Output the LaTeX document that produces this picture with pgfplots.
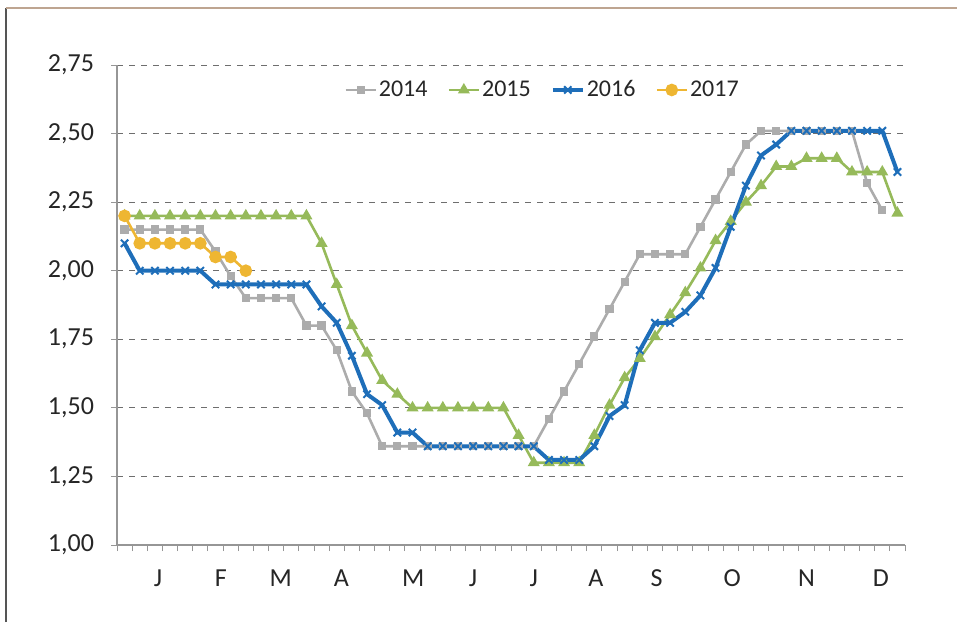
\documentclass[border=0pt]{standalone}
\usepackage{pgfplots}
\pgfplotsset{compat=1.18}
\usepackage{pgfplotstable}
\usepackage{fontspec}
\setmainfont{Carlito}
\definecolor{cgray}{RGB}{172,172,172}
\definecolor{cgreen}{RGB}{150,186,90}
\definecolor{cblue}{RGB}{30,110,185}
\definecolor{cgold}{RGB}{238,182,50}
\definecolor{gridc}{RGB}{110,110,110}
\definecolor{axc}{RGB}{150,150,150}

\pgfplotstableread{
w v
0 2.15
1 2.15
2 2.15
3 2.15
4 2.15
5 2.15
6 2.07
7 1.98
8 1.90
9 1.90
10 1.90
11 1.90
12 1.80
13 1.80
14 1.71
15 1.56
16 1.48
17 1.36
18 1.36
19 1.36
20 1.36
21 1.36
22 1.36
23 1.36
24 1.36
25 1.36
26 1.36
27 1.36
28 1.46
29 1.56
30 1.66
31 1.76
32 1.86
33 1.96
34 2.06
35 2.06
36 2.06
37 2.06
38 2.16
39 2.26
40 2.36
41 2.46
42 2.51
43 2.51
44 2.51
45 2.51
46 2.51
47 2.51
48 2.51
49 2.32
50 2.22
}\ya

\pgfplotstableread{
w v
0 2.20
1 2.20
2 2.20
3 2.20
4 2.20
5 2.20
6 2.20
7 2.20
8 2.20
9 2.20
10 2.20
11 2.20
12 2.20
13 2.10
14 1.95
15 1.80
16 1.70
17 1.60
18 1.55
19 1.50
20 1.50
21 1.50
22 1.50
23 1.50
24 1.50
25 1.50
26 1.40
27 1.30
28 1.30
29 1.30
30 1.30
31 1.40
32 1.51
33 1.61
34 1.68
35 1.76
36 1.84
37 1.92
38 2.01
39 2.11
40 2.18
41 2.25
42 2.31
43 2.38
44 2.38
45 2.41
46 2.41
47 2.41
48 2.36
49 2.36
50 2.36
51 2.21
}\yb

\pgfplotstableread{
w v
0 2.10
1 2.00
2 2.00
3 2.00
4 2.00
5 2.00
6 1.95
7 1.95
8 1.95
9 1.95
10 1.95
11 1.95
12 1.95
13 1.87
14 1.81
15 1.69
16 1.55
17 1.51
18 1.41
19 1.41
20 1.36
21 1.36
22 1.36
23 1.36
24 1.36
25 1.36
26 1.36
27 1.36
28 1.31
29 1.31
30 1.31
31 1.36
32 1.47
33 1.51
34 1.71
35 1.81
36 1.81
37 1.85
38 1.91
39 2.01
40 2.16
41 2.31
42 2.42
43 2.46
44 2.51
45 2.51
46 2.51
47 2.51
48 2.51
49 2.51
50 2.51
51 2.36
}\yc

\pgfplotstableread{
w v
0 2.20
1 2.10
2 2.10
3 2.10
4 2.10
5 2.10
6 2.05
7 2.05
8 2.00
}\yd

\begin{document}
\begin{tikzpicture}
\path[use as bounding box] (0,0) rectangle (478.5pt,311pt);
\draw[color={rgb,255:red,85;green,85;blue,85}, line width=1.2pt] (3pt,0) -- (3pt,307pt);
\draw[color={rgb,255:red,190;green,165;blue,145}, line width=0.8pt] (3pt,307pt) -- (478.5pt,307pt);
\begin{axis}[
  at={(58.5pt,38.5pt)}, anchor=south west,
  scale only axis, width=394pt, height=240pt,
  xmin=-0.5, xmax=51.5, ymin=1.0, ymax=2.75,
  axis x line=bottom, axis y line=left,
  axis line style={-, color=axc, line width=0.6pt},
  ytick={1,1.25,...,2.75},
  ymajorgrids,
  grid style={dashed, color=gridc, line width=0.5pt},
  xtick={2.2,6.35,10.3,14.3,19.05,23,27,31.1,35.1,40.1,45,49.9},
  xticklabels={J,F,M,A,M,J,J,A,S,O,N,D},
  minor xtick={-0.5,0.5,...,51.5},
  tick align=outside,
  major tick length=3pt, minor tick length=3pt,
  x tick style={draw=none},
  minor x tick style={draw=axc, line width=0.5pt},
  y tick style={draw=axc, line width=0.5pt},
  tick label style={font=\fontsize{13}{15}\selectfont, text=black!85},
  xticklabel style={yshift=-6pt},
  yticklabel style={xshift=-5pt, /pgf/number format/.cd, fixed, fixed zerofill, precision=2, use comma, assume math mode=true},
  legend style={at={(0.54,0.948)}, anchor=center, draw=none, fill=none,
    font=\fontsize{12}{14}\selectfont, column sep=0pt, inner sep=1pt,
    nodes={right, font=\fontsize{12}{14}\selectfont, text=black!85, inner sep=1pt},
    /tikz/every even column/.append style={column sep=9pt}},
  legend columns=4,
  legend image code/.code={\draw[#1] (0pt,0pt) -- (15pt,0pt); \draw[#1, only marks] plot coordinates {(7.5pt,0pt)};},
]
\addplot[color=cgray, line width=1.3pt, mark=square*, mark size=1.4pt, mark options={solid, fill=cgray}] table[x=w, y=v] {\ya};
\addlegendentry{2014}
\addplot[color=cgreen, line width=1.3pt, mark=triangle*, mark size=2.2pt, mark options={solid, fill=cgreen}] table[x=w, y=v] {\yb};
\addlegendentry{2015}
\addplot[color=cblue, line width=2pt, mark=x, mark size=2.6pt, mark options={solid, line width=1pt}] table[x=w, y=v] {\yc};
\addlegendentry{2016}
\addplot[color=cgold, line width=1.3pt, mark=*, mark size=2.5pt, mark options={solid, fill=cgold}] table[x=w, y=v] {\yd};
\addlegendentry{2017}
\end{axis}
\end{tikzpicture}
\end{document}
